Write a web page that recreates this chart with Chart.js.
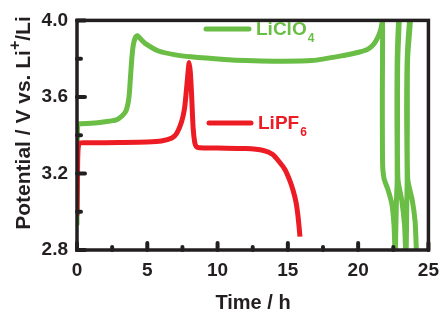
<!DOCTYPE html>
<html>
<head>
<meta charset="utf-8">
<script src="https://cdn.jsdelivr.net/npm/chart.js@4.4.0/dist/chart.umd.min.js"></script>
<style>
    html, body { margin: 0; padding: 0; background: #ffffff; }
    #wrap { width: 448px; height: 318px; }
</style>
</head>
<body>
<div id="wrap"><canvas id="voltChart" width="448" height="318"></canvas></div>
<script>
// LiPF6 cell, time (h) and potential (V)
const lipf6Time = [0.0, 0.03, 0.06, 0.12, 0.25, 1, 3, 5, 6, 6.75, 7.1, 7.44, 7.65, 7.79, 7.9, 7.98, 8.06, 8.14, 8.26, 8.38, 8.5, 8.7, 10, 12, 13.26, 13.9, 14.4, 14.8, 15.1, 15.38, 15.58, 15.7, 15.8, 15.86];
const lipf6Volt = [2.98, 3.15, 3.30, 3.35, 3.36, 3.36, 3.362, 3.365, 3.37, 3.385, 3.41, 3.47, 3.54, 3.64, 3.73, 3.78, 3.73, 3.63, 3.44, 3.36, 3.34, 3.335, 3.333, 3.33, 3.32, 3.30, 3.26, 3.22, 3.17, 3.11, 3.05, 2.99, 2.92, 2.87];

// LiClO4 cell, first charge/discharge then the short cycles at the end
const liclo4Time = [0.0, 0.02, 0.05, 0.2, 1, 2, 2.8, 3.2, 3.5, 3.7, 3.8, 3.9, 4.0, 4.15, 4.3, 4.5, 4.9, 5.8, 7, 8.1, 10.5, 12, 14, 16.7, 19.07, 20.1, 20.7, 21.1, 21.39, 21.6, 21.73,
    21.72, 21.73, 21.76, 21.85, 22.1, 22.4, 22.55, 22.62,
    22.65, 22.72, 22.78, 22.76, 22.78, 22.88,
    22.92, 22.82, 22.8, 22.83, 23.1, 23.3, 23.38,
    23.42, 23.46, 23.49, 23.45, 23.49, 23.66,
    23.72, 23.52, 23.5, 23.53, 23.85, 24.05, 24.14];
const liclo4Volt = [2.93, 3.2, 3.45, 3.46, 3.462, 3.47, 3.48, 3.50, 3.53, 3.6, 3.7, 3.8, 3.87, 3.91, 3.92, 3.905, 3.877, 3.84, 3.82, 3.81, 3.796, 3.79, 3.787, 3.79, 3.818, 3.835, 3.85, 3.875, 3.91, 3.95, 4.0,
    3.6, 3.3, 3.22, 3.17, 3.12, 3.04, 2.93, 2.8,
    2.8, 3.05, 3.17, 3.5, 3.8, 4.0,
    4.0, 3.8, 3.5, 3.17, 3.06, 2.93, 2.8,
    2.8, 3.05, 3.17, 3.5, 3.8, 4.0,
    4.0, 3.8, 3.5, 3.17, 3.06, 2.95, 2.8];

const xMajorTicks = [0, 5, 10, 15, 20, 25];
const xMinorTicks = [2.5, 7.5, 12.5, 17.5, 22.5];
const yMajorTicks = [2.8, 3.2, 3.6, 4.0];
const yMinorTicks = [3.0, 3.4, 3.8];

const GREEN = "#6abd45";
const RED = "#ed1c24";
const INK = "#231f20";
const FONT = "'Liberation Sans', Arial, sans-serif";

function toPoints(xs, ys) {
    return xs.map((x, i) => ({ x: x, y: ys[i] }));
}

// frame, inward ticks, axis titles and the in-plot labels
const decorations = {
    id: "decorations",
    afterDatasetsDraw(chart) {
        const ctx = chart.ctx;
        const area = chart.chartArea;
        const xs = chart.scales.x;
        const ys = chart.scales.y;

        ctx.save();
        ctx.strokeStyle = INK;
        ctx.lineCap = "round";

        ctx.lineWidth = 4;
        xMajorTicks.forEach((v) => {
            const px = xs.getPixelForValue(v);
            ctx.beginPath();
            ctx.moveTo(px, area.bottom);
            ctx.lineTo(px, area.bottom - 7);
            ctx.stroke();
        });
        xMinorTicks.forEach((v) => {
            const px = xs.getPixelForValue(v);
            ctx.beginPath();
            ctx.moveTo(px, area.bottom);
            ctx.lineTo(px, area.bottom - 3);
            ctx.stroke();
        });
        yMajorTicks.forEach((v) => {
            const py = ys.getPixelForValue(v);
            ctx.beginPath();
            ctx.moveTo(area.left, py);
            ctx.lineTo(area.left + 8, py);
            ctx.stroke();
        });
        yMinorTicks.forEach((v) => {
            const py = ys.getPixelForValue(v);
            ctx.beginPath();
            ctx.moveTo(area.left, py);
            ctx.lineTo(area.left + 4, py);
            ctx.stroke();
        });

        ctx.lineCap = "butt";
        ctx.lineWidth = 3.5;
        ctx.strokeRect(area.left, area.top, area.right - area.left, area.bottom - area.top);

        // x title
        ctx.fillStyle = INK;
        ctx.textAlign = "center";
        ctx.textBaseline = "alphabetic";
        ctx.font = "bold 20px " + FONT;
        ctx.fillText("Time / h", 253, 309);

        // y title with superscript +
        ctx.translate(30, 123);
        ctx.rotate(-Math.PI / 2);
        ctx.textAlign = "left";
        const big = "bold 21px " + FONT;
        const small = "bold 16px " + FONT;
        const partA = "Potential / V vs. Li";
        const partB = "+";
        const partC = "/Li";
        ctx.font = big;
        const wA = ctx.measureText(partA).width;
        const wC = ctx.measureText(partC).width;
        ctx.font = small;
        const wB = ctx.measureText(partB).width;
        let pos = -(wA + wB + wC) / 2;
        ctx.font = big;
        ctx.fillText(partA, pos, 0);
        pos += wA;
        ctx.font = small;
        ctx.fillText(partB, pos, -10);
        pos += wB;
        ctx.font = big;
        ctx.fillText(partC, pos, 0);
        ctx.restore();

        // series labels
        ctx.save();
        ctx.lineCap = "round";
        ctx.lineWidth = 5;
        ctx.strokeStyle = GREEN;
        ctx.beginPath();
        ctx.moveTo(206, 29);
        ctx.lineTo(249, 29);
        ctx.stroke();
        ctx.strokeStyle = RED;
        ctx.beginPath();
        ctx.moveTo(209, 123);
        ctx.lineTo(251, 123);
        ctx.stroke();

        ctx.textAlign = "left";
        ctx.textBaseline = "alphabetic";
        ctx.fillStyle = GREEN;
        ctx.font = "bold 19px " + FONT;
        ctx.fillText("LiClO", 256, 35);
        const wG = ctx.measureText("LiClO").width;
        ctx.font = "bold 12px " + FONT;
        ctx.fillText("4", 256 + wG + 1, 42);

        ctx.fillStyle = RED;
        ctx.font = "bold 19px " + FONT;
        ctx.fillText("LiPF", 258, 129);
        const wR = ctx.measureText("LiPF").width;
        ctx.font = "bold 12px " + FONT;
        ctx.fillText("6", 258 + wR + 1, 136);
        ctx.restore();
    }
};

const ctx = document.getElementById("voltChart").getContext("2d");

new Chart(ctx, {
    type: "line",
    data: {
        datasets: [
            {
                label: "LiPF6",
                data: toPoints(lipf6Time, lipf6Volt),
                borderColor: RED,
                borderWidth: 5,
                pointRadius: 0,
                tension: 0.25,
                fill: false
            },
            {
                label: "LiClO4",
                data: toPoints(liclo4Time, liclo4Volt),
                borderColor: GREEN,
                borderWidth: 5,
                pointRadius: 0,
                tension: 0.25,
                fill: false
            }
        ]
    },
    options: {
        responsive: false,
        animation: false,
        layout: { padding: { top: 12, right: 13, left: 0, bottom: 0 } },
        plugins: {
            legend: { display: false },
            tooltip: { enabled: false }
        },
        scales: {
            x: {
                type: "linear",
                min: 0,
                max: 25,
                grid: { display: false, drawTicks: false },
                border: { display: false },
                afterFit: (scale) => { scale.height = 68; },
                ticks: {
                    stepSize: 2.5,
                    padding: 9,
                    color: INK,
                    font: { family: FONT, size: 19, weight: "bold" },
                    maxRotation: 0,
                    autoSkip: false,
                    callback: (v) => (v % 5 === 0 ? String(v) : "")
                }
            },
            y: {
                type: "linear",
                min: 2.8,
                max: 4.0,
                grid: { display: false, drawTicks: false },
                border: { display: false },
                afterFit: (scale) => { scale.width = 77; },
                ticks: {
                    stepSize: 0.2,
                    padding: 9,
                    color: INK,
                    font: { family: FONT, size: 19, weight: "bold" },
                    autoSkip: false,
                    callback: (v) => (Math.round(v * 10) % 4 === 0 ? v.toFixed(1) : "")
                }
            }
        }
    },
    plugins: [decorations]
});
</script>
</body>
</html>
